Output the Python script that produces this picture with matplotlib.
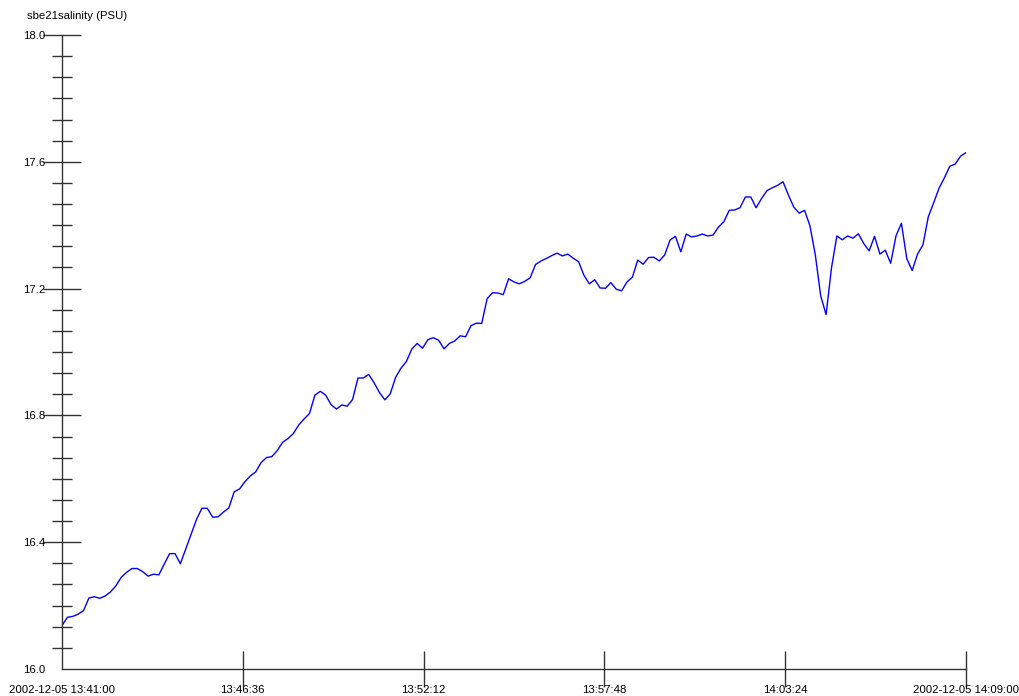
import numpy as np
import pandas as pd
import matplotlib
matplotlib.use("Agg")
import matplotlib.pyplot as plt
import matplotlib.dates as mdates
from matplotlib.ticker import FixedLocator, FixedFormatter

plt.rcParams['font.family'] = ['Liberation Sans', 'DejaVu Sans']

# sbe21 salinity, one sample every 10 s starting 2002-12-05 13:41:00
start = pd.Timestamp("2002-12-05 13:41:00")
salinity = [
    16.137, 16.163, 16.166, 16.173, 16.184, 16.224, 16.228, 16.223, 16.230, 16.243,
    16.262, 16.289, 16.305, 16.317, 16.317, 16.307, 16.293, 16.299, 16.297, 16.331,
    16.364, 16.364, 16.332, 16.379, 16.426, 16.472, 16.507, 16.507, 16.479, 16.480,
    16.495, 16.508, 16.559, 16.568, 16.591, 16.609, 16.622, 16.651, 16.667, 16.670,
    16.689, 16.715, 16.727, 16.743, 16.770, 16.789, 16.806, 16.864, 16.876, 16.864,
    16.834, 16.820, 16.833, 16.829, 16.850, 16.918, 16.918, 16.929, 16.903, 16.872,
    16.849, 16.868, 16.920, 16.949, 16.970, 17.009, 17.027, 17.012, 17.039, 17.045,
    17.037, 17.010, 17.027, 17.035, 17.051, 17.048, 17.083, 17.091, 17.090, 17.168,
    17.187, 17.186, 17.181, 17.231, 17.221, 17.215, 17.223, 17.234, 17.276, 17.287,
    17.295, 17.304, 17.312, 17.303, 17.309, 17.296, 17.285, 17.242, 17.215, 17.228,
    17.202, 17.201, 17.219, 17.198, 17.193, 17.221, 17.236, 17.290, 17.277, 17.298,
    17.299, 17.287, 17.306, 17.353, 17.365, 17.316, 17.372, 17.363, 17.366, 17.372,
    17.366, 17.369, 17.394, 17.411, 17.447, 17.448, 17.455, 17.489, 17.489, 17.455,
    17.484, 17.509, 17.518, 17.526, 17.537, 17.495, 17.457, 17.438, 17.447, 17.398,
    17.306, 17.177, 17.118, 17.265, 17.366, 17.354, 17.366, 17.359, 17.373, 17.342,
    17.319, 17.365, 17.309, 17.321, 17.280, 17.367, 17.406, 17.294, 17.257, 17.309,
    17.338, 17.427, 17.471, 17.517, 17.550, 17.586, 17.593, 17.618, 17.629,
]
times = pd.date_range(start, periods=len(salinity), freq="10s")

y_major = [16.0, 16.4, 16.8, 17.2, 17.6, 18.0]
x_tick_times = pd.date_range(start, pd.Timestamp("2002-12-05 14:09:00"), periods=6)
x_tick_labels = ["2002-12-05 13:41:00", "13:46:36", "13:52:12",
                 "13:57:48", "14:03:24", "2002-12-05 14:09:00"]

fig = plt.figure(figsize=(10.19, 6.96), dpi=100)
ax = fig.add_axes([62 / 1019, 1 - 669 / 696, (966 - 62) / 1019, (669 - 35) / 696])

ax.plot(times, salinity, color="#0000ff", lw=1.0)

ax.set_xlim(x_tick_times[0], x_tick_times[-1])
ax.set_ylim(16.0, 18.0)

for side in ("top", "right"):
    ax.spines[side].set_visible(False)
for side in ("left", "bottom"):
    ax.spines[side].set_color("#333333")
    ax.spines[side].set_linewidth(1.0)

ax.yaxis.set_major_locator(FixedLocator(y_major))
ax.yaxis.set_major_formatter(FixedFormatter(["%.1f" % v for v in y_major]))
ax.yaxis.set_minor_locator(FixedLocator(np.linspace(16.0, 18.0, 31)))
ax.tick_params(axis="y", which="major", direction="inout", length=27, width=1,
               color="#333333", labelsize=8.2, pad=-1.5)
ax.tick_params(axis="y", which="minor", direction="inout", length=14, width=1,
               color="#333333")

ax.xaxis.set_major_locator(FixedLocator(mdates.date2num(x_tick_times)))
ax.xaxis.set_major_formatter(FixedFormatter(x_tick_labels))
ax.tick_params(axis="x", which="major", direction="inout", length=26, width=1,
               color="#333333", labelsize=8.2, pad=-1.5)

# no tick marks where the two axes meet
fig.canvas.draw()
ax.yaxis.get_major_ticks()[0].tick1line.set_visible(False)
ax.xaxis.get_major_ticks()[0].tick1line.set_visible(False)
for t in ax.yaxis.get_minor_ticks():
    if abs(t.get_loc() - 16.0) < 1e-9:
        t.tick1line.set_visible(False)

fig.text(27 / 1019, 1 - 16 / 696, "sbe21salinity (PSU)", fontsize=8.2,
         ha="left", va="center")

fig.savefig("out.png", dpi=100, facecolor="white")
